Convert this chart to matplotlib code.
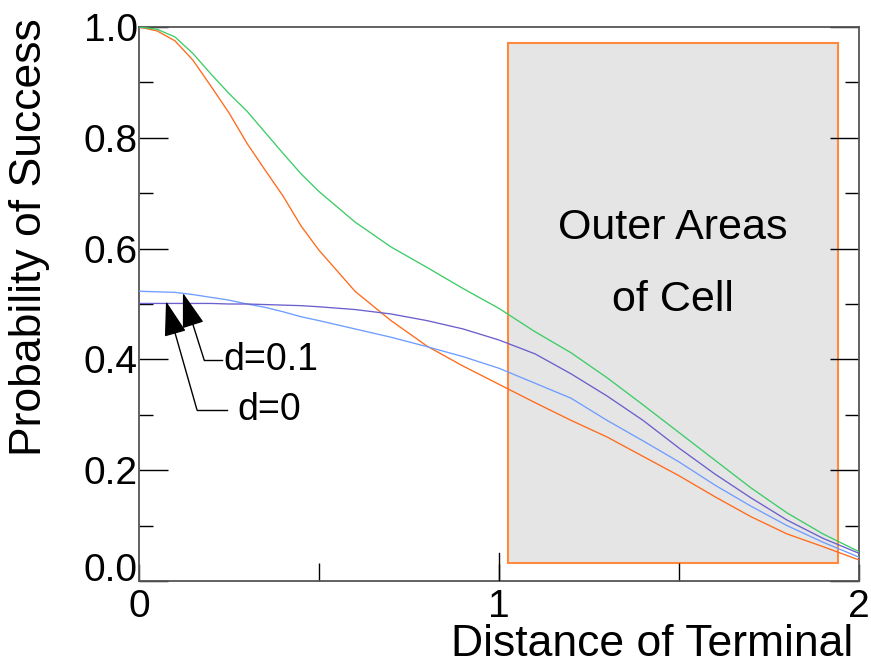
import matplotlib
matplotlib.use("Agg")
import matplotlib.pyplot as plt
from matplotlib.patches import Rectangle
from matplotlib.ticker import MultipleLocator

plt.rcParams['font.family'] = ['Liberation Sans', 'DejaVu Sans']

# ---- data ----
x = [0.0, 0.05, 0.1, 0.15, 0.2, 0.25, 0.3, 0.35, 0.4, 0.45, 0.5, 0.6, 0.7,
     0.8, 0.9, 1.0, 1.1, 1.2, 1.3, 1.4, 1.5, 1.6, 1.7, 1.8, 1.9, 2.0]

orange = [1.0, 0.993, 0.975, 0.94, 0.893, 0.845, 0.79, 0.742, 0.695, 0.641,
          0.597, 0.523, 0.47, 0.424, 0.388, 0.355, 0.322, 0.29, 0.26, 0.225,
          0.19, 0.152, 0.116, 0.085, 0.062, 0.038]

green = [1.0, 0.996, 0.982, 0.952, 0.915, 0.88, 0.848, 0.81, 0.772, 0.735,
         0.703, 0.648, 0.603, 0.566, 0.528, 0.492, 0.45, 0.412, 0.367, 0.318,
         0.268, 0.218, 0.168, 0.123, 0.085, 0.053]

lightblue = [0.523, 0.522, 0.521, 0.517, 0.512, 0.507, 0.50, 0.494, 0.486,
             0.477, 0.47, 0.455, 0.44, 0.423, 0.405, 0.384, 0.357, 0.33, 0.29,
             0.253, 0.215, 0.173, 0.135, 0.10, 0.07, 0.043]

purple = [0.501, 0.501, 0.501, 0.501, 0.501, 0.5, 0.5, 0.499, 0.498, 0.497,
          0.495, 0.49, 0.482, 0.47, 0.455, 0.435, 0.41, 0.374, 0.334, 0.29,
          0.24, 0.193, 0.15, 0.11, 0.077, 0.05]

series_colors = {'orange': '#ff6a1a', 'green': '#3ccc66',
                 'lightblue': '#6f9dff', 'purple': '#6a5fcc'}

outer_area = (1.025, 1.942, 0.0325, 0.971)  # x0, x1, y0, y1
x_ticks = [0, 1, 2]
y_ticks = [0.0, 0.2, 0.4, 0.6, 0.8, 1.0]

# ---- figure ----
fig = plt.figure(figsize=(8.71, 6.66), dpi=100)
ax = fig.add_axes([139/871, 1 - 581/666, (859 - 139)/871, (581 - 27)/666])

x0, x1, y0, y1 = outer_area
ax.add_patch(Rectangle((x0, y0), x1 - x0, y1 - y0, facecolor='#e5e5e5',
                       edgecolor='#ff8a3d', lw=1.5, zorder=1))
ax.text((x0 + x1) / 2, 0.637, 'Outer Areas', ha='center', va='center',
        fontsize=31, zorder=3)
ax.text((x0 + x1) / 2, 0.507, 'of Cell', ha='center', va='center',
        fontsize=31, zorder=3)

ax.plot(x, orange, color=series_colors['orange'], lw=0.95, zorder=4)
ax.plot(x, green, color=series_colors['green'], lw=0.95, zorder=4)
ax.plot(x, lightblue, color=series_colors['lightblue'], lw=0.95, zorder=4)
ax.plot(x, purple, color=series_colors['purple'], lw=0.95, zorder=4)

# annotations
arrow_kw = dict(arrowstyle='-|>,head_length=2.2,head_width=0.7',
                color='black', lw=1.0, shrinkA=0, shrinkB=0, mutation_scale=10)
ax.annotate('', xy=(0.122, 0.520), xytext=(0.181, 0.399), arrowprops=arrow_kw,
            zorder=5)
ax.plot([0.181, 0.231], [0.399, 0.399], color='black', lw=1.0, zorder=5)
ax.text(0.235, 0.399, 'd=0.1', ha='left', va='center', fontsize=27, zorder=5)

ax.annotate('', xy=(0.075, 0.505), xytext=(0.161, 0.309), arrowprops=arrow_kw,
            zorder=5)
ax.plot([0.161, 0.244], [0.309, 0.309], color='black', lw=1.0, zorder=5)
ax.text(0.272, 0.309, 'd=0', ha='left', va='center', fontsize=27, zorder=5)

ax.set_xlim(0, 2)
ax.set_ylim(0, 1)
ax.set_xticks(x_ticks)
ax.set_xticklabels([str(t) for t in x_ticks])
ax.set_yticks(y_ticks)
ax.set_yticklabels([f'{t:.1f}' for t in y_ticks])
ax.xaxis.set_minor_locator(MultipleLocator(0.5))
ax.yaxis.set_minor_locator(MultipleLocator(0.1))

ax.tick_params(axis='x', which='major', direction='in', length=12, width=1,
               labelsize=28, pad=6, colors='black', top=False)
ax.tick_params(axis='x', which='minor', direction='in', length=13, width=1,
               top=False)
ax.tick_params(axis='y', which='major', direction='in', length=21, width=1,
               labelsize=28, pad=1, right=True)
ax.tick_params(axis='y', which='minor', direction='in', length=10, width=1,
               right=True)
# bottom y label sits above the corner, as in the reference
ax.get_yticklabels()[0].set_verticalalignment('baseline')
# long tick at x = 1
ax.axvline(1, ymin=0, ymax=28/554, color='black', lw=1.0, zorder=5)

for s in ax.spines.values():
    s.set_color('#555555')
    s.set_linewidth(1.3)

fig.text(30/871, 1 - 18/666, 'Probability of Success', rotation=90,
         ha='center', va='top', fontsize=32)
fig.text(853/871, 1/666, 'Distance of Terminal', ha='right', va='bottom',
         fontsize=32)

fig.savefig('out.png', dpi=100)
